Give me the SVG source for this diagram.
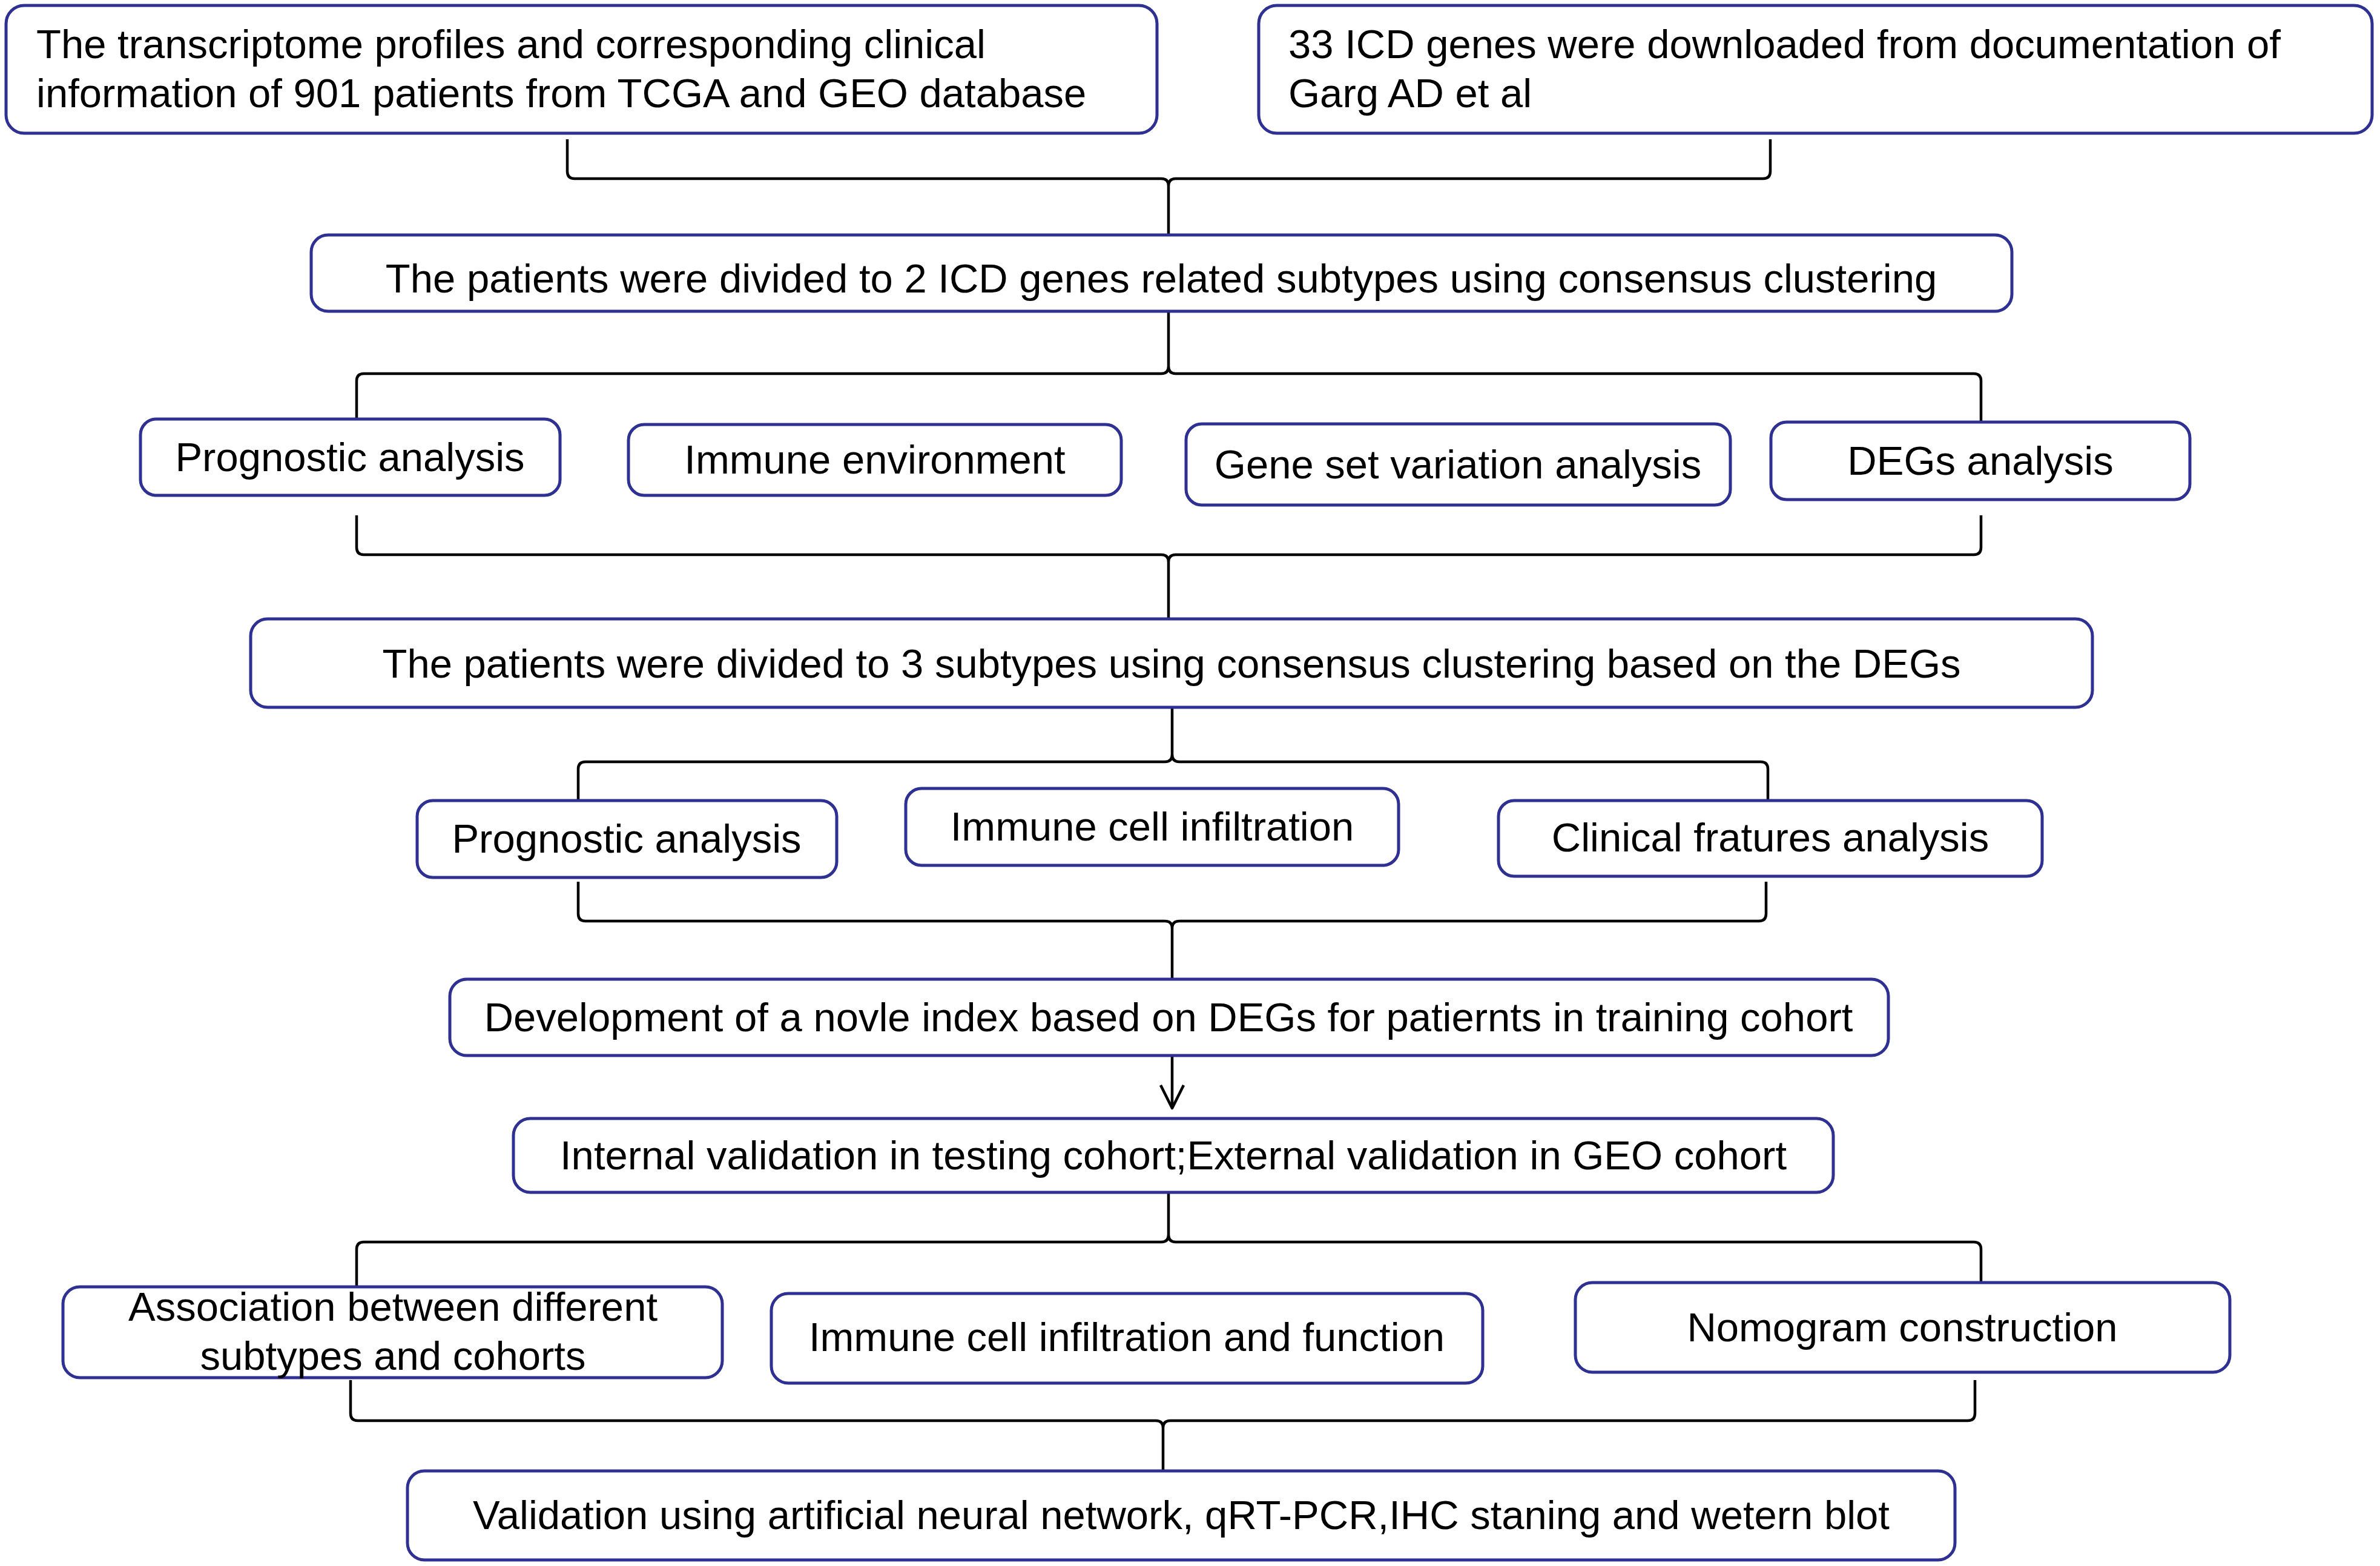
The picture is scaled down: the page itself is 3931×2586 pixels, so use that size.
<svg xmlns="http://www.w3.org/2000/svg" width="3931" height="2586" viewBox="0 0 3931 2586">
<style>
.box{fill:#ffffff;stroke:#2e3192;stroke-width:5}
.t{font-family:"Liberation Sans",Arial,sans-serif;font-size:67px;fill:#000000}
.c{text-anchor:middle}
.con{fill:none;stroke:#000000;stroke-width:4.5;stroke-linejoin:round}
</style>
<rect width="3931" height="2586" fill="#ffffff"/>
<g id="connectors">
<path class="con" d="M937,230 L937,283 Q937,295 949,295 L1918,295 Q1930,295 1930,307 L1930,387 M2924,230 L2924,283 Q2924,295 2912,295 L1942,295 Q1930,295 1930,307"/>
<path class="con" d="M1930,513 L1930,605 Q1930,617 1918,617 L601,617 Q589,617 589,629 L589,691 M1930,605 Q1930,617 1942,617 L3260,617 Q3272,617 3272,629 L3272,697"/>
<path class="con" d="M589,851 L589,904 Q589,916 601,916 L1918,916 Q1930,916 1930,928 L1930,1021 M3272,851 L3272,904 Q3272,916 3260,916 L1942,916 Q1930,916 1930,928"/>
<path class="con" d="M1936,1168 L1936,1246 Q1936,1258 1924,1258 L967,1258 Q955,1258 955,1270 L955,1321 M1936,1246 Q1936,1258 1948,1258 L2908,1258 Q2920,1258 2920,1270 L2920,1321"/>
<path class="con" d="M955,1456 L955,1509 Q955,1521 967,1521 L1924,1521 Q1936,1521 1936,1533 L1936,1616 M2917,1456 L2917,1509 Q2917,1521 2905,1521 L1948,1521 Q1936,1521 1936,1533"/>
<path class="con" d="M1936,1743 L1936,1830 M1917,1792 L1936,1830 L1955,1792"/>
<path class="con" d="M1930,1969 L1930,2039 Q1930,2051 1918,2051 L601,2051 Q589,2051 589,2063 L589,2124 M1930,2039 Q1930,2051 1942,2051 L3260,2051 Q3272,2051 3272,2063 L3272,2117"/>
<path class="con" d="M579,2279 L579,2334 Q579,2346 591,2346 L1909,2346 Q1921,2346 1921,2358 L1921,2428 M3262,2279 L3262,2334 Q3262,2346 3250,2346 L1933,2346 Q1921,2346 1921,2358"/>
</g>
<g id="n1">
<rect class="box" x="10" y="9" width="1901" height="211" rx="30"/>
<text class="t" x="60" y="96">The transcriptome profiles and corresponding clinical</text>
<text class="t" x="60" y="177">information of 901 patients from TCGA and GEO database</text>
</g>
<g id="n2">
<rect class="box" x="2079" y="9" width="1839" height="211" rx="30"/>
<text class="t" x="2128" y="96">33 ICD genes were downloaded from documentation of</text>
<text class="t" x="2128" y="177">Garg AD et al</text>
</g>
<g id="n3">
<rect class="box" x="514" y="388" width="2809" height="126" rx="28"/>
<text class="t c" x="1918" y="483">The patients were divided to 2 ICD genes related subtypes using consensus clustering</text>
</g>
<g id="n4">
<rect class="box" x="232" y="692" width="693" height="126" rx="26"/>
<text class="t c" x="578" y="778">Prognostic analysis</text>
</g>
<g id="n5">
<rect class="box" x="1038" y="701" width="814" height="117" rx="26"/>
<text class="t c" x="1445" y="782">Immune environment</text>
</g>
<g id="n6">
<rect class="box" x="1959" y="700" width="899" height="134" rx="26"/>
<text class="t c" x="2408" y="790">Gene set variation analysis</text>
</g>
<g id="n7">
<rect class="box" x="2925" y="697" width="692" height="128" rx="26"/>
<text class="t c" x="3271" y="784">DEGs analysis</text>
</g>
<g id="n8">
<rect class="box" x="414" y="1022" width="3042" height="146" rx="28"/>
<text class="t c" x="1935" y="1119">The patients were divided to 3 subtypes using consensus clustering based on the DEGs</text>
</g>
<g id="n9">
<rect class="box" x="689" y="1322" width="693" height="127" rx="26"/>
<text class="t c" x="1035" y="1408">Prognostic analysis</text>
</g>
<g id="n10">
<rect class="box" x="1496" y="1302" width="814" height="127" rx="26"/>
<text class="t c" x="1903" y="1388">Immune cell infiltration</text>
</g>
<g id="n11">
<rect class="box" x="2475" y="1322" width="898" height="125" rx="26"/>
<text class="t c" x="2924" y="1406">Clinical fratures analysis</text>
</g>
<g id="n12">
<rect class="box" x="743" y="1617" width="2376" height="126" rx="28"/>
<text class="t c" x="1930" y="1703">Development of a novle index based on DEGs for patiernts in training cohort</text>
</g>
<g id="n13">
<rect class="box" x="848" y="1847" width="2180" height="122" rx="28"/>
<text class="t c" x="1938" y="1931">Internal validation in testing cohort;External validation in GEO cohort</text>
</g>
<g id="n14">
<rect class="box" x="104" y="2125" width="1089" height="150" rx="28"/>
<text class="t c" x="649" y="2181">Association between different</text>
<text class="t c" x="649" y="2262">subtypes and cohorts</text>
</g>
<g id="n15">
<rect class="box" x="1274" y="2136" width="1175" height="148" rx="28"/>
<text class="t c" x="1861" y="2231">Immune cell infiltration and function</text>
</g>
<g id="n16">
<rect class="box" x="2602" y="2118" width="1081" height="148" rx="28"/>
<text class="t c" x="3142" y="2215">Nomogram construction</text>
</g>
<g id="n17">
<rect class="box" x="673" y="2429" width="2556" height="147" rx="28"/>
<text class="t c" x="1951" y="2525">Validation using artificial neural network, qRT-PCR,IHC staning and wetern blot</text>
</g>
</svg>
